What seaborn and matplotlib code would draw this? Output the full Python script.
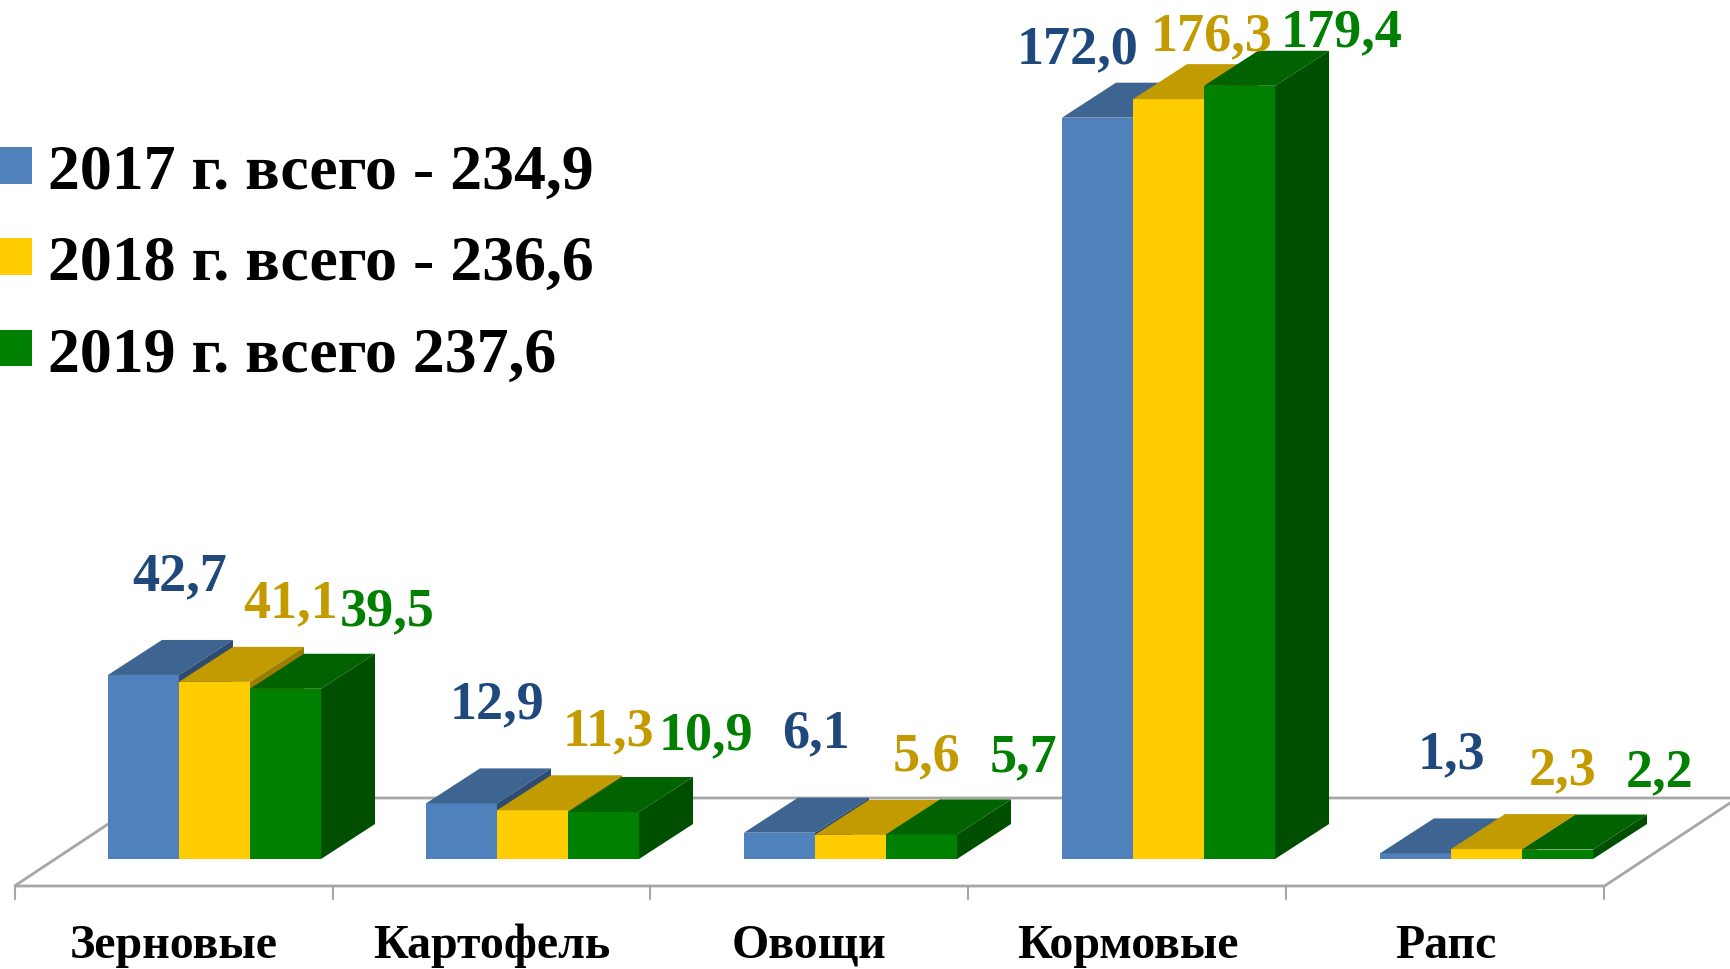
import numpy as np
import pandas as pd
import matplotlib
matplotlib.use("Agg")
import matplotlib.pyplot as plt
import seaborn as sns
from matplotlib.patches import Polygon

# ---------------- data ----------------
categories = ["Зерновые", "Картофель", "Овощи", "Кормовые", "Рапс"]
years = ["2017", "2018", "2019"]
v2017 = [42.7, 12.9, 6.1, 172.0, 1.3]
v2018 = [41.1, 11.3, 5.6, 176.3, 2.3]
v2019 = [39.5, 10.9, 5.7, 179.4, 2.2]
legend_labels = ["2017 г. всего - 234,9", "2018 г. всего - 236,6", "2019 г. всего 237,6"]

# ---------------- style ----------------
front_colors = ["#4F81BD", "#FFCC00", "#008000"]
top_colors = ["#3E6491", "#C29B00", "#006300"]
side_colors = ["#2E4C72", "#9C7D00", "#004F00"]
label_colors = ["#1F497D", "#C39B00", "#008000"]
floor_color = "#A6A6A6"

W, H, DPI = 1731, 970, 100
sns.set_theme(style="white")
plt.rcParams["font.family"] = ["Liberation Serif", "DejaVu Serif"]
plt.rcParams["font.weight"] = "bold"
plt.rcParams["text.color"] = "black"

fig = plt.figure(figsize=(W / DPI, H / DPI), dpi=DPI)
fig.patch.set_facecolor("white")
ax = fig.add_axes([0, 0, 1, 1])

# pixel geometry of the pseudo-3D scene
CAT_PX = 318.0       # pixels per category
X0_PX = 55.5         # left edge of the bar plane
BASE_PY = 860.0      # pixel row of value 0 (from top)
PX_PER_UNIT = 4.31   # pixels per value unit


def px2x(px):
    return (px - X0_PX) / CAT_PX - 0.5


def py2v(py):
    return (BASE_PY - py) / PX_PER_UNIT


def dxd(p):
    return p / CAT_PX


def dvd(p):
    return p / PX_PER_UNIT


df = pd.DataFrame({
    "Культура": categories * 3,
    "Год": np.repeat(years, len(categories)),
    "val": v2017 + v2018 + v2019,
})

sns.barplot(data=df, x="Культура", y="val", hue="Год", palette=front_colors,
            width=0.67, saturation=1, linewidth=0, ax=ax, zorder=10)

ax.set_xlim(px2x(0), px2x(W))
ax.set_ylim(py2v(H), py2v(0))
ax.axis("off")

# ---------- floor ----------
FRONT_DX, FRONT_DY = 41, 27     # bar plane offset from floor front
FLOOR_DX, FLOOR_DY = 133, 88    # full floor depth
fx0 = -0.5 - dxd(FRONT_DX)
fx1 = len(categories) - 0.5 - dxd(FRONT_DX)
fv = -dvd(FRONT_DY)
floor = Polygon([(fx0, fv), (fx1, fv), (fx1 + dxd(FLOOR_DX), fv + dvd(FLOOR_DY)),
                 (fx0 + dxd(FLOOR_DX), fv + dvd(FLOOR_DY))],
                closed=True, facecolor="white", edgecolor=floor_color, lw=2.0, zorder=2)
ax.add_patch(floor)
for k in range(len(categories) + 1):
    xk = k - 0.5 - dxd(FRONT_DX)
    ax.plot([xk, xk], [fv, fv - dvd(13)], color=floor_color, lw=1.5, zorder=2)

# ---------- 3D faces ----------
DEPTH_DX, DEPTH_DY = 54, 35
ddx, ddv = dxd(DEPTH_DX), dvd(DEPTH_DY)
lab_dx = [36, 76, 102]
lab_lift = [64, 44, 42]
tall_dx = [-20, 43, 102]
cap_py = [50, 37, 33]

for j, cont in enumerate(ax.containers):
    for k, bar in enumerate(cont):
        xl = bar.get_x()
        w = bar.get_width()
        h = bar.get_height()
        xr = xl + w
        bar.set_zorder(10 + 3 * j)
        top = Polygon([(xl, h), (xr, h), (xr + ddx, h + ddv), (xl + ddx, h + ddv)],
                      closed=True, facecolor=top_colors[j], edgecolor="none", zorder=11 + 3 * j)
        side = Polygon([(xr, 0), (xr, h), (xr + ddx, h + ddv), (xr + ddx, ddv)],
                       closed=True, facecolor=side_colors[j], edgecolor="none", zorder=12 + 3 * j)
        ax.add_patch(top)
        ax.add_patch(side)
        # value label
        cx = xl + w / 2
        ly = h + ddv + dvd(lab_lift[j])
        lx = cx + dxd(lab_dx[j])
        if ly > py2v(cap_py[j] + 30):
            ly = py2v(cap_py[j])
            lx = cx + dxd(tall_dx[j])
        ax.text(lx, ly, f"{h:.1f}".replace(".", ","), ha="center", va="center",
                fontsize=39, fontweight="bold", color=label_colors[j], zorder=30)

# ---------- category labels ----------
for k, c in enumerate(categories):
    ax.text(k - dxd(FRONT_DX), py2v(946), c, ha="center", va="center",
            fontsize=34.5, fontweight="bold", color="black", zorder=30)

# ---------- legend ----------
handles, _ = ax.get_legend_handles_labels()
leg = ax.legend(handles, legend_labels, loc="upper left",
                bbox_to_anchor=(0.0, 1 - 145 / H), bbox_transform=fig.transFigure,
                fontsize=46, frameon=False, handlelength=0.5, handleheight=0.5,
                handletextpad=0.25, labelspacing=0.52, borderpad=0, borderaxespad=0)
for t in leg.get_texts():
    t.set_fontweight("bold")
    t.set_color("black")

fig.savefig("out.png", dpi=DPI, facecolor="white")
